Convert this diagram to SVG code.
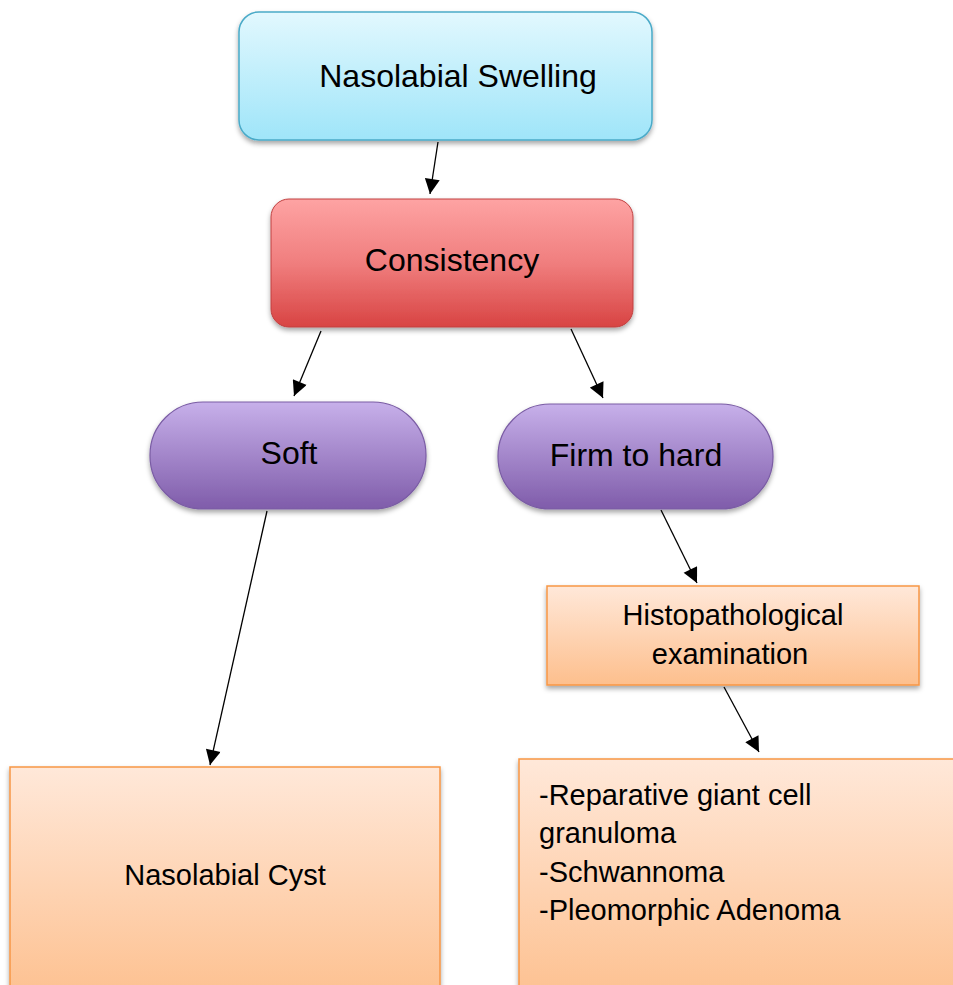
<svg xmlns="http://www.w3.org/2000/svg" width="953" height="985" viewBox="0 0 953 985">
<defs>
<linearGradient id="gCyan" x1="0" y1="0" x2="0" y2="1"><stop offset="0" stop-color="#e2f8fe"/><stop offset="1" stop-color="#9fe5f9"/></linearGradient>
<linearGradient id="gRed" x1="0" y1="0" x2="0" y2="1"><stop offset="0" stop-color="#fea3a3"/><stop offset="0.5" stop-color="#f07e7e"/><stop offset="1" stop-color="#d84443"/></linearGradient>
<linearGradient id="gPurple" x1="0" y1="0" x2="0" y2="1"><stop offset="0" stop-color="#c7b0ea"/><stop offset="1" stop-color="#7f5caa"/></linearGradient>
<linearGradient id="gOrange" x1="0" y1="0" x2="0" y2="1"><stop offset="0" stop-color="#ffe8d9"/><stop offset="1" stop-color="#fdbf8d"/></linearGradient>
<filter id="shadow" x="-10%" y="-10%" width="120%" height="130%"><feDropShadow dx="0" dy="3" stdDeviation="2.5" flood-color="#000" flood-opacity="0.35"/></filter>
<marker id="arrow" viewBox="0 0 10 10" refX="10" refY="5" markerWidth="16" markerHeight="15" markerUnits="userSpaceOnUse" orient="auto"><path d="M0,0 L10,5 L0,10 Z" fill="#000"/></marker>
</defs>
<style>
text{font-family:"Liberation Sans",Arial,sans-serif;fill:#000}
.t30{font-size:32px;text-anchor:middle}
.t29{font-size:29px}
.mid{text-anchor:middle}
.conn line{stroke:#000;stroke-width:1.3;marker-end:url(#arrow)}
.orange{fill:url(#gOrange);stroke:#f79646;stroke-width:1.5;filter:url(#shadow)}
.purple{fill:url(#gPurple);stroke:#7a5ca4;stroke-width:1.2;filter:url(#shadow)}
</style>
<rect width="953" height="985" fill="#fff"/>
<g class="conn">
<line x1="438" y1="142" x2="430" y2="194"/>
<line x1="321" y1="331" x2="294" y2="396"/>
<line x1="571" y1="329" x2="603" y2="398"/>
<line x1="661" y1="510" x2="697" y2="583"/>
<line x1="267" y1="511" x2="210" y2="765"/>
<line x1="724" y1="687" x2="759" y2="752"/>
</g>
<g id="n-swelling">
<rect x="239" y="12" width="413" height="128" rx="20" fill="url(#gCyan)" stroke="#4aaac8" stroke-width="1.5" filter="url(#shadow)"/>
<text class="t30" x="458" y="87">Nasolabial Swelling</text>
</g>
<g id="n-consistency">
<rect x="271" y="199" width="362" height="128" rx="18" fill="url(#gRed)" stroke="#c04040" stroke-width="1" filter="url(#shadow)"/>
<text class="t30" x="452" y="271">Consistency</text>
</g>
<g id="n-soft">
<rect x="150" y="402" width="276" height="107" rx="53" class="purple"/>
<text class="t30" x="289" y="464">Soft</text>
</g>
<g id="n-firm">
<rect x="498" y="404" width="275" height="105" rx="52" class="purple"/>
<text class="t30" x="636" y="466">Firm to hard</text>
</g>
<g id="n-histo">
<rect x="547" y="586" width="372" height="99" class="orange"/>
<text class="t29 mid" x="733" y="625">Histopathological</text>
<text class="t29 mid" x="730" y="664">examination</text>
</g>
<g id="n-cyst">
<rect x="10" y="767" width="430" height="240" class="orange"/>
<text class="t29 mid" x="225" y="885">Nasolabial Cyst</text>
</g>
<g id="n-diff">
<rect x="519" y="759" width="460" height="250" class="orange"/>
<text class="t29" x="539" y="805">-Reparative giant cell</text>
<text class="t29" x="539" y="843">granuloma</text>
<text class="t29" x="539" y="882">-Schwannoma</text>
<text class="t29" x="539" y="920">-Pleomorphic Adenoma</text>
</g>
</svg>
